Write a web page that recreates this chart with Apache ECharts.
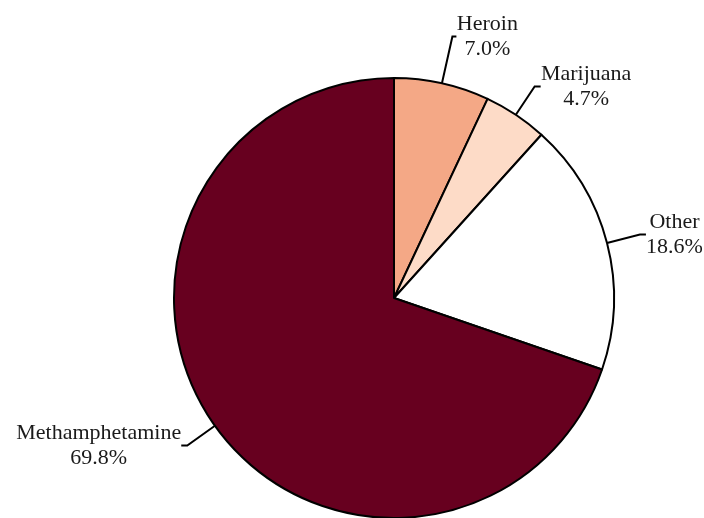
<!DOCTYPE html>
<html>
<head>
<meta charset="utf-8">
<script src="https://cdn.jsdelivr.net/npm/echarts@6/dist/echarts.min.js"></script>
<style>
  html, body { margin: 0; padding: 0; background: #fff; }
  #chart { width: 704px; height: 518px; }
</style>
</head>
<body>
<div id="chart"></div>
<script>
// 数据
var categories = ['Heroin', 'Marijuana', 'Other', 'Methamphetamine'];
var shares = [7.0, 4.7, 18.6, 69.8];
var colors = ['#F4A886', '#FDDBC7', '#FFFFFF', '#67001F'];

var FONT = 'Liberation Serif';
var FONT_SIZE = 22;

var dom = document.getElementById('chart');
var myChart = echarts.init(dom);

// 量文字宽度, 让两行文字居中
var ctx = document.createElement('canvas').getContext('2d');
ctx.font = FONT_SIZE + 'px "' + FONT + '"';
function textWidth(s) {
    return Math.ceil(ctx.measureText(s).width);
}

var pieData = [];
for (var i = 0; i < categories.length; i++) {
    var pct = shares[i].toFixed(1) + '%';
    var w = Math.max(textWidth(categories[i]), textWidth(pct));
    var item = {
        name: categories[i],
        value: shares[i],
        itemStyle: { color: colors[i] },
        label: {
            rich: {
                t: { width: w, align: 'center' }
            }
        }
    };
    // Heroin 引导线加长
    if (i === 0) {
        item.labelLine = { length: 48, length2: 4 };
    }
    pieData.push(item);
}

var option = {
    animation: false,
    series: [
        {
            type: 'pie',
            center: [394, 298],
            radius: 220,
            startAngle: 90,
            clockwise: true,
            avoidLabelOverlap: false,
            data: pieData,
            itemStyle: {
                borderColor: '#000',
                borderWidth: 2
            },
            label: {
                show: true,
                position: 'outside',
                fontFamily: FONT,
                fontSize: FONT_SIZE,
                color: '#1a1a1a',
                lineHeight: 25,
                distanceToLabelLine: 0,
                formatter: function (p) {
                    return '{t|' + p.name + '}\n{t|' + p.value.toFixed(1) + '%}';
                }
            },
            labelLine: {
                show: true,
                length: 34,
                length2: 6,
                lineStyle: { color: '#000', width: 2 }
            }
        }
    ]
};
myChart.setOption(option);
</script>
</body>
</html>
